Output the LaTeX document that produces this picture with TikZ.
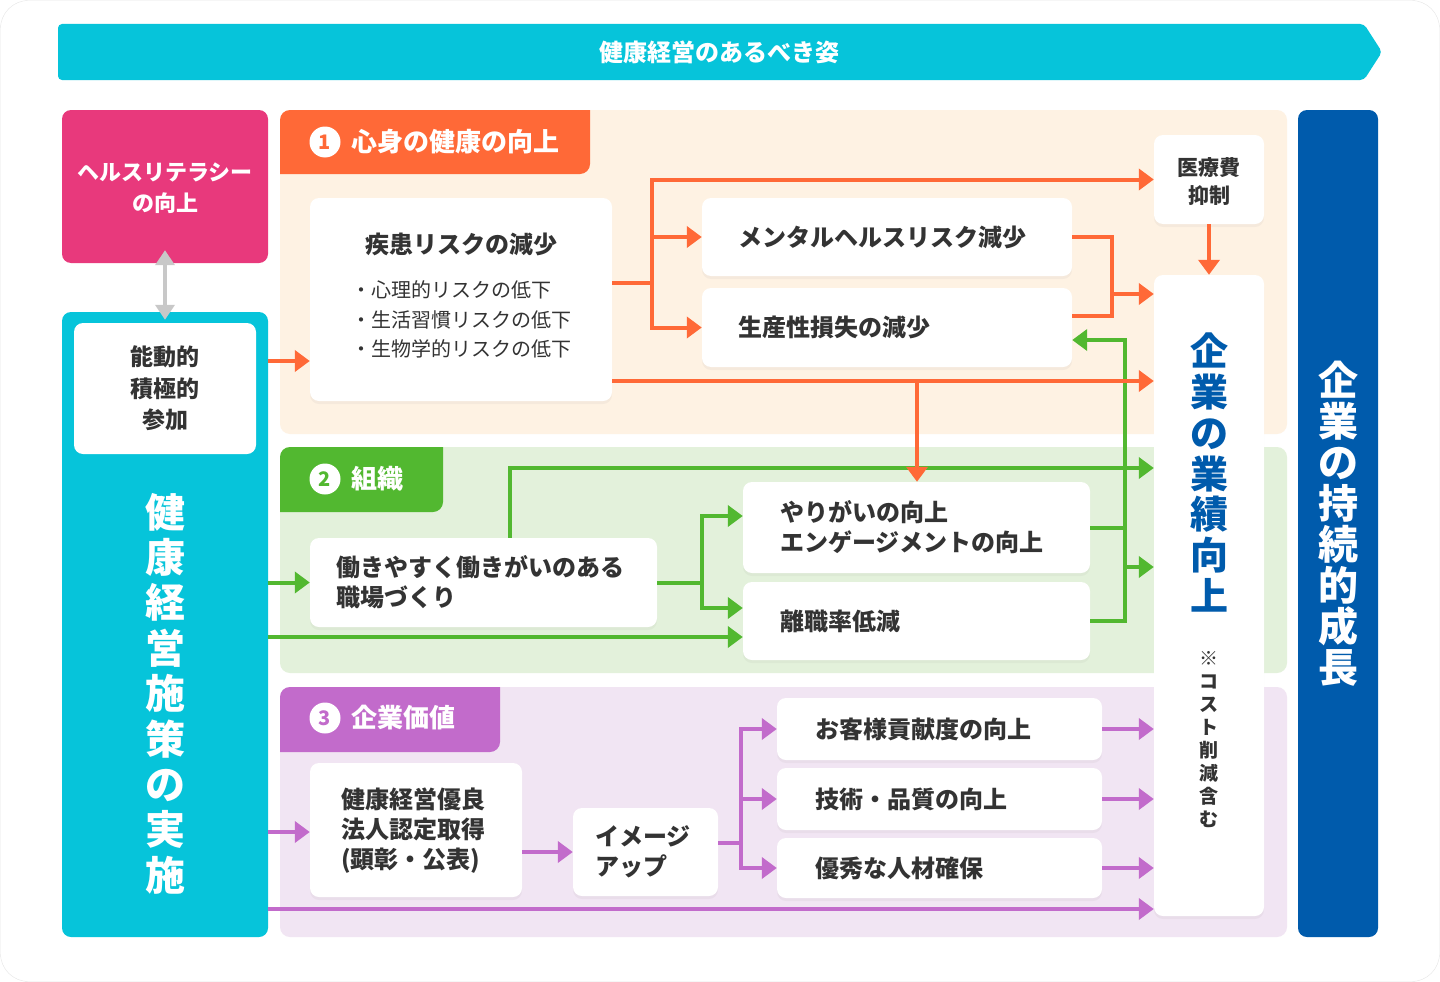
\documentclass[tikz,border=0pt]{standalone}
\usepackage{fontspec}
\setmainfont{Noto Sans CJK JP}
\usetikzlibrary{positioning,arrows.meta,shadows}
\definecolor{kcyan}{HTML}{06C4DA}
\definecolor{kpink}{HTML}{E8397C}
\definecolor{korange}{HTML}{FF6937}
\definecolor{korangebg}{HTML}{FEF2E3}
\definecolor{kgreen}{HTML}{52B830}
\definecolor{kgreenbg}{HTML}{E3F1DB}
\definecolor{kpurple}{HTML}{C26BCB}
\definecolor{kpurplebg}{HTML}{F1E5F3}
\definecolor{kblue}{HTML}{005BAC}
\definecolor{ktext}{HTML}{333333}
\definecolor{kgray}{HTML}{C8C8C8}

\begin{document}
\begin{tikzpicture}[x=1pt,y=-1pt,>={Triangle[length=15pt,width=21pt]},
  panel/.style={rounded corners=10},
  wbox/.style={fill=white,rounded corners=9,text=ktext,font=\fontsize{24}{30}\selectfont\bfseries,
    drop shadow={opacity=0.07,shadow xshift=0pt,shadow yshift=-3pt}},
  lbox/.style={wbox,align=left,inner ysep=0pt},
  cbox/.style={wbox,align=center,inner sep=0pt},
  numc/.style={circle,fill=white,minimum size=31pt,inner sep=0pt,font=\fontsize{20}{20}\selectfont\bfseries},
  tabtxt/.style={right=11pt of #1,inner sep=0pt,text=white,font=\fontsize{26}{26}\selectfont\bfseries},
  oline/.style={korange,line width=4pt},
  gline/.style={kgreen,line width=4pt},
  pline/.style={kpurple,line width=4pt}]
\useasboundingbox (0,0) rectangle (1440,982);
\draw[black!10,fill=white,rounded corners=28] (0.5,0.5) rectangle (1439.5,981.5);

% banner
\fill[kcyan,rounded corners=4] (58,24) -- (1364,24) -- (1382,52) -- (1364,80) -- (58,80) -- cycle;
\node[text=white,font=\fontsize{24}{24}\selectfont\bfseries] (sugata) at (719,52) {健康経営のあるべき姿};

% panels and tabs
\fill[korangebg,panel] (280,110) rectangle (1287,434);
\fill[kgreenbg,panel] (280,447) rectangle (1287,673);
\fill[kpurplebg,panel] (280,687) rectangle (1287,937);
\fill[korange] (280,174) -- (280,120) arc[start angle=180,end angle=270,radius=10] -- (590,110) -- (590,164) arc[start angle=0,end angle=90,radius=10] -- cycle;
\fill[kgreen] (280,512) -- (280,457) arc[start angle=180,end angle=270,radius=10] -- (443,447) -- (443,502) arc[start angle=0,end angle=90,radius=10] -- cycle;
\fill[kpurple] (280,752) -- (280,697) arc[start angle=180,end angle=270,radius=10] -- (500,687) -- (500,742) arc[start angle=0,end angle=90,radius=10] -- cycle;
\node[numc,text=korange] (n1) at (325,142) {1};
\node[tabtxt=n1] (t1) {心身の健康の向上};
\node[numc,text=kgreen] (n2) at (325,479) {2};
\node[tabtxt=n2] (t2) {組織};
\node[numc,text=kpurple] (n3) at (325,718) {3};
\node[tabtxt=n3] (t3) {企業価値};

% left column
\node[fill=kpink,rounded corners=9,minimum width=206pt,minimum height=153pt,align=center,text=white,
  font=\fontsize{22}{31}\selectfont\bfseries] (lit) at (165,186.5) {\\[-10pt]ヘルスリテラシー\\の向上};
\node[fill=kcyan,rounded corners=9,minimum width=206pt,minimum height=625pt] (shisaku) at (165,624.5) {};
\node[fill=white,rounded corners=9,minimum width=182pt,minimum height=131pt,align=center,text=ktext,
  font=\fontsize{23}{31.5}\selectfont\bfseries] (sanka) at (165,388.5) {能動的\\積極的\\参加};
\node[align=center,text=white,font=\fontsize{40}{45.4}\selectfont\bfseries] (shisakutxt) at (165,693.5)
  {健\\康\\経\\営\\施\\策\\の\\実\\施};
\draw[kgray,line width=4pt,{Triangle[length=15pt,width=19pt]}-{Triangle[length=15pt,width=19pt]},
  shorten <=-13pt,shorten >=-8pt] (lit.south) -- (shisaku.north);

% right column
\node[fill=kblue,rounded corners=9,minimum width=80pt,minimum height=827pt,align=center,text=white,
  font=\fontsize{40}{41}\selectfont\bfseries] (seicho) at (1338,523.5) {企\\業\\の\\持\\続\\的\\成\\長};
\node[cbox,minimum width=110pt,minimum height=641pt] (gyoseki) at (1209,595.5) {};
\node[align=center,text=kblue,font=\fontsize{38}{40.8}\selectfont\bfseries] (gyosekitxt) at (1209,472.5)
  {企\\業\\の\\業\\績\\向\\上};
\node[align=center,text=ktext,font=\fontsize{19}{23}\selectfont\bfseries] (note) at (1209,740)
  {※\\コ\\ス\\ト\\削\\減\\含\\む};
\node[cbox,minimum width=110pt,minimum height=89pt,font=\fontsize{21}{28}\selectfont\bfseries] (iryo) at (1209,179.5) {\\[-6pt]医療費\\抑制};

% 1: health
\node[cbox,minimum width=302pt,minimum height=203pt] (shikkan) at (461,299.5) {疾患リスクの減少\\[20pt]
  {\fontsize{20}{29.5}\selectfont\mdseries\begin{tabular}{@{}l@{}}・心理的リスクの低下\\・生活習慣リスクの低下\\・生物学的リスクの低下\end{tabular}}};
\node[lbox,text width=298pt,inner xsep=36pt,minimum height=78pt] (mental) at (887,237) {メンタルヘルスリスク減少};
\node[lbox,text width=298pt,inner xsep=36pt,minimum height=79pt] (seisan) at (887,327.5) {生産性損失の減少};

% 2: organisation
\node[lbox,text width=295pt,inner xsep=26pt,minimum height=89pt] (hataraki) at (483.5,582.5) {働きやすく働きがいのある\\職場づくり};
\node[lbox,text width=273pt,inner xsep=37pt,minimum height=91pt] (yarigai) at (916.5,527.5) {やりがいの向上\\エンゲージメントの向上};
\node[lbox,text width=273pt,inner xsep=37pt,minimum height=78pt] (rishoku) at (916.5,621) {離職率低減};

% 3: corporate value
\node[lbox,text width=150pt,inner xsep=31pt,minimum height=134pt] (yuryo) at (416,830) {\\[-8pt]健康経営優良\\法人認定取得\\(顕彰・公表)};
\node[lbox,text width=101pt,inner xsep=22pt,minimum height=88pt] (imageup) at (645.5,852) {イメージ\\アップ};
\node[lbox,text width=249pt,inner xsep=38pt,minimum height=62pt] (kyaku) at (939.5,729) {お客様貢献度の向上};
\node[lbox,text width=249pt,inner xsep=38pt,minimum height=62pt] (gijutsu) at (939.5,799) {技術・品質の向上};
\node[lbox,text width=249pt,inner xsep=38pt,minimum height=60pt] (jinzai) at (939.5,868) {優秀な人材確保};

% green connectors
\coordinate (gj) at (702,582.5);
\coordinate (gr) at (1125,567);
\draw[gline,->] (shisaku.east |- hataraki.west) -- (hataraki.west);
\draw[gline,->] (hataraki.east) -| (gj |- 0,516) -- (yarigai.west |- 0,516);
\draw[gline,->] (gj) |- (rishoku.west |- 0,608);
\draw[gline,->] (shisaku.east |- 0,637) -- (rishoku.west |- 0,637);
\draw[gline,->] (hataraki.north -| 510,0) |- (gyoseki.west |- 0,468);
\draw[gline] (yarigai.east) -- (yarigai.east -| gr);
\draw[gline,->] (rishoku.east) -| (gr |- 0,340) -- (seisan.east |- 0,340);
\draw[gline,->] (gr) -- (gyoseki.west |- gr);

% orange connectors
\coordinate (oj) at (652,283);
\coordinate (oj2) at (1112,294);
\coordinate (oj3) at (917,381);
\draw[oline,->] (shisaku.east |- 0,361) -- (shikkan.west |- 0,361);
\draw[oline,->] (shikkan.east |- oj) -| (oj |- iryo) -- (iryo.west);
\draw[oline,->] (oj) |- (mental.west);
\draw[oline,->] (oj) |- (seisan.west);
\draw[oline] (mental.east) -| (oj2 |- 0,316) -- (seisan.east |- 0,316);
\draw[oline,->] (oj2) -- (gyoseki.west |- oj2);
\draw[oline,->] (shikkan.east |- oj3) -- (gyoseki.west |- oj3);
\draw[oline,->] (oj3) -- (yarigai.north -| oj3);
\draw[oline,->] (iryo.south) -- (gyoseki.north);

% purple connectors
\coordinate (pj) at (741,843);
\draw[pline,->] (shisaku.east |- 0,832) -- (yuryo.west |- 0,832);
\draw[pline,->] (yuryo.east |- imageup.west) -- (imageup.west);
\draw[pline,->] (imageup.east |- pj) -| (pj |- kyaku) -- (kyaku.west);
\draw[pline,->] (pj |- gijutsu) -- (gijutsu.west);
\draw[pline,->] (pj) |- (jinzai.west);
\draw[pline,->] (kyaku.east) -- (gyoseki.west |- kyaku);
\draw[pline,->] (gijutsu.east) -- (gyoseki.west |- gijutsu);
\draw[pline,->] (jinzai.east) -- (gyoseki.west |- jinzai);
\draw[pline,->] (shisaku.east |- 0,909) -- (gyoseki.west |- 0,909);
\end{tikzpicture}
\end{document}
